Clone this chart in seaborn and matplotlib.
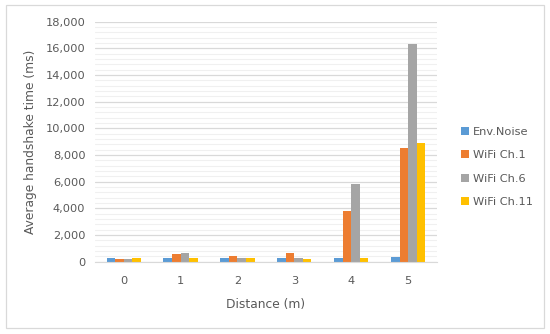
import numpy as np
import pandas as pd
import matplotlib
matplotlib.use("Agg")
import matplotlib.pyplot as plt
import seaborn as sns
from matplotlib.ticker import MultipleLocator, FuncFormatter
from matplotlib.patches import Rectangle

# Values
distances = ["0", "1", "2", "3", "4", "5"]
series = ["Env.Noise", "WiFi Ch.1", "WiFi Ch.6", "WiFi Ch.11"]
env_noise = [250, 250, 250, 270, 280, 330]
wifi_ch1 = [200, 600, 450, 630, 3800, 8550]
wifi_ch6 = [200, 650, 250, 270, 5850, 16300]
wifi_ch11 = [250, 250, 250, 230, 270, 8900]
colors = ["#5B9BD5", "#ED7D31", "#A5A5A5", "#FFC000"]

df = pd.DataFrame({
    "Distance": distances * 4,
    "Series": np.repeat(series, len(distances)),
    "Time": env_noise + wifi_ch1 + wifi_ch6 + wifi_ch11,
})

sns.set_style("white")
plt.rcParams['font.family'] = ['DejaVu Sans']
text_col = "#595959"

fig = plt.figure(figsize=(5.5, 3.34), dpi=100)
ax = fig.add_axes([0.173, 0.2165, 0.621, 0.7185])

sns.barplot(data=df, x="Distance", y="Time", hue="Series", palette=colors,
            width=0.6, saturation=1, linewidth=0, ax=ax, legend=True)

ax.set_ylim(0, 18000)
ax.yaxis.set_major_locator(MultipleLocator(2000))
ax.yaxis.set_minor_locator(MultipleLocator(400))
ax.yaxis.set_major_formatter(FuncFormatter(lambda v, p: f"{int(v):,}"))
ax.grid(which="major", axis="y", color="#D9D9D9", linewidth=0.9)
ax.grid(which="minor", axis="y", color="#F0F0F0", linewidth=0.8)
ax.set_axisbelow(True)
ax.tick_params(which="both", length=0, colors=text_col, labelsize=8.2)
ax.tick_params(axis="y", pad=7)
ax.tick_params(axis="x", pad=10)
for s in ["top", "right", "left"]:
    ax.spines[s].set_visible(False)
ax.spines["bottom"].set_color("#D9D9D9")

ax.set_xlabel("Distance (m)", color=text_col, fontsize=8.8, labelpad=9)
ax.set_ylabel("Average handshake time (ms)", color=text_col, fontsize=8.8, labelpad=6)

handles, labels = ax.get_legend_handles_labels()
ax.legend_.remove()
leg = fig.legend(handles, labels, loc="center left", bbox_to_anchor=(0.82, 0.5),
                 frameon=False, fontsize=8.2, handlelength=0.7, handleheight=0.7,
                 handletextpad=0.35, labelspacing=1.15)
for t in leg.get_texts():
    t.set_color(text_col)

fig.patches.append(Rectangle((0.011, 0.018), 0.978, 0.967, transform=fig.transFigure,
                             fill=False, edgecolor="#D9D9D9", linewidth=0.9))

fig.savefig("out.png", dpi=100)
